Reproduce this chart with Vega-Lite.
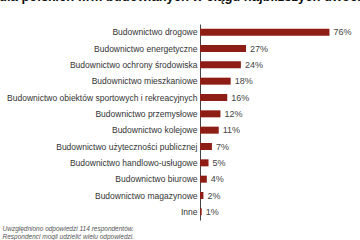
{
  "$schema": "https://vega.github.io/schema/vega-lite/v6.json",
  "autosize": {"type": "none"},
  "padding": {"left": 200, "top": 24, "right": 5, "bottom": 20},
  "width": 155,
  "height": 196,
  "background": "white",
  "title": {
    "text": "dla polskich firm budowlanych w ciągu najbliższych dwóch lat?",
    "anchor": "start",
    "frame": "group",
    "dx": -201,
    "offset": 20,
    "font": "Liberation Sans",
    "fontSize": 13,
    "fontWeight": "bold",
    "color": "#111"
  },
  "config": {"view": {"stroke": null}},
  "data": {
    "values": [
      {"kategoria": "Budownictwo drogowe", "udzial": 0.76},
      {"kategoria": "Budownictwo energetyczne", "udzial": 0.27},
      {"kategoria": "Budownictwo ochrony środowiska", "udzial": 0.24},
      {"kategoria": "Budownictwo mieszkaniowe", "udzial": 0.18},
      {"kategoria": "Budownictwo obiektów sportowych i rekreacyjnych", "udzial": 0.16},
      {"kategoria": "Budownictwo przemysłowe", "udzial": 0.12},
      {"kategoria": "Budownictwo kolejowe", "udzial": 0.11},
      {"kategoria": "Budownictwo użyteczności publicznej", "udzial": 0.07},
      {"kategoria": "Budownictwo handlowo-usługowe", "udzial": 0.05},
      {"kategoria": "Budownictwo biurowe", "udzial": 0.04},
      {"kategoria": "Budownictwo magazynowe", "udzial": 0.02},
      {"kategoria": "Inne", "udzial": 0.01}
    ]
  },
  "encoding": {
    "y": {
      "field": "kategoria",
      "type": "nominal",
      "sort": null,
      "axis": {
        "title": null,
        "ticks": false,
        "labelFont": "Liberation Sans",
        "labelFontSize": 8.5,
        "labelColor": "#333",
        "labelPadding": 3,
        "labelLimit": 260,
        "domainColor": "#444",
        "domainWidth": 1
      }
    },
    "x": {
      "field": "udzial",
      "type": "quantitative",
      "scale": {"domain": [0, 0.91]},
      "axis": {
        "grid": false,
        "labels": false,
        "ticks": false,
        "domain": false,
        "title": ["Uwzględniono odpowiedzi 114 respondentów.", "Respondenci mogli udzielić wielu odpowiedzi."],
        "titleAnchor": "start",
        "titleAlign": "left",
        "titleBaseline": "top",
        "titleX": -198,
        "titleY": 5,
        "titleFont": "Liberation Sans",
        "titleFontSize": 6.5,
        "titleFontStyle": "italic",
        "titleFontWeight": "normal",
        "titleColor": "#555",
        "titleLineHeight": 8.5
      }
    }
  },
  "layer": [
    {"mark": {"type": "bar", "color": "#8E1D15", "size": 7}},
    {
      "mark": {"type": "text", "align": "left", "baseline": "middle", "dx": 4, "font": "Liberation Sans", "fontSize": 9, "color": "#444"},
      "encoding": {"text": {"field": "udzial", "type": "quantitative", "format": ".0%"}}
    }
  ]
}
